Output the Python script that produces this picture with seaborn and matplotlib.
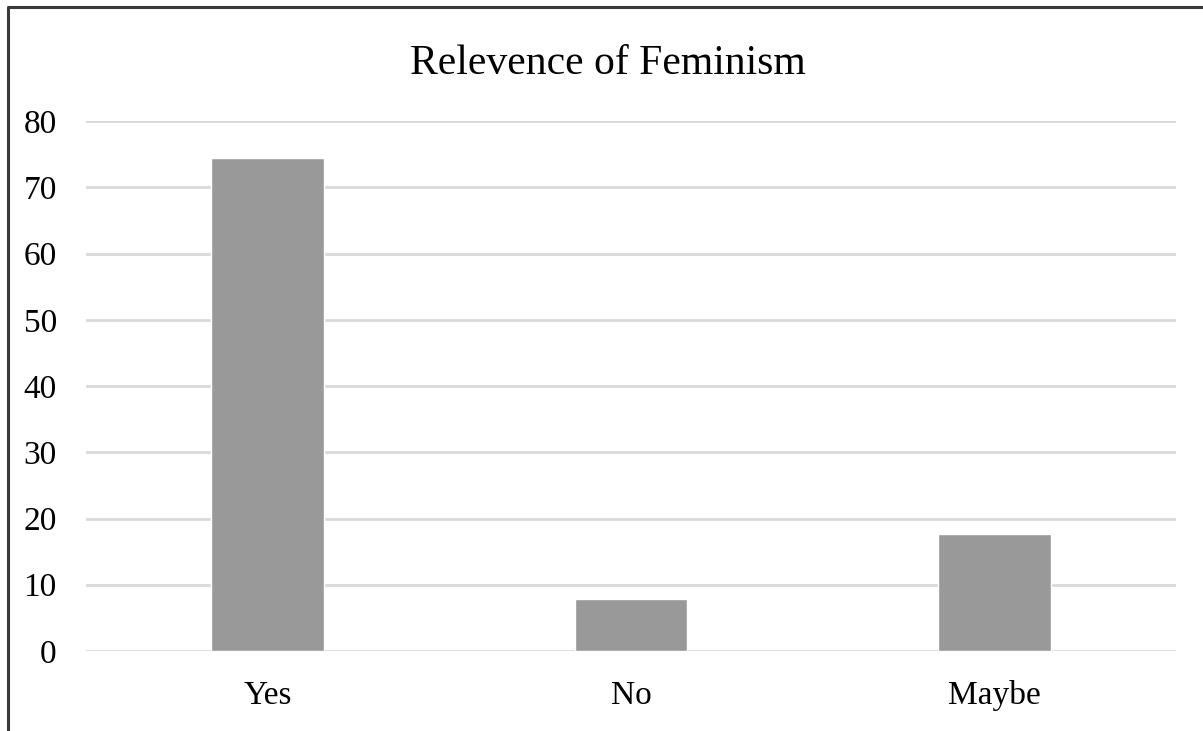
import matplotlib
matplotlib.use("Agg")
import matplotlib.pyplot as plt
from matplotlib.lines import Line2D
import seaborn as sns
import pandas as pd

# Survey responses (percent)
answers = ["Yes", "No", "Maybe"]
shares = [74.4, 7.9, 17.7]
y_ticks = [0, 10, 20, 30, 40, 50, 60, 70, 80]

sns.set_theme(style="white")
plt.rcParams["font.family"] = ["Liberation Serif", "DejaVu Serif"]

df = pd.DataFrame({"answer": answers, "share": shares})

fig = plt.figure(figsize=(12.03, 7.31), dpi=100)
ax = fig.add_axes([86 / 1203, 1 - 651 / 731, (1176 - 86) / 1203, (651 - 121) / 731])

sns.barplot(data=df, x="answer", y="share", color="#999999", width=0.31,
            saturation=1, ax=ax, zorder=3)

ax.set_ylim(0, 80)
ax.set_xlim(-0.5, 2.5)
ax.set_yticks(y_ticks)
ax.yaxis.grid(True, color="#d9d9d9", linewidth=2, zorder=0)
ax.xaxis.grid(False)
for s in ax.spines.values():
    s.set_visible(False)
ax.set_xlabel("")
ax.set_ylabel("")
ax.tick_params(axis="y", length=0, pad=21, labelsize=24, labelcolor="black")
ax.tick_params(axis="x", length=0, pad=21, labelsize=24, labelcolor="black")

fig.text(608 / 1203, 1 - 74.5 / 731, "Relevence of Feminism", ha="center",
         va="baseline", fontsize=30, color="black")

# Outer frame running off the right and bottom edges
frame_x = [8 / 1203, 8 / 1203, 1.01]
frame_y = [-0.01, 1 - 7 / 731, 1 - 7 / 731]
fig.add_artist(Line2D(frame_x, frame_y, transform=fig.transFigure,
                      color="#3a3a3a", linewidth=2.2))

fig.savefig("out.png", dpi=100, facecolor="white")
